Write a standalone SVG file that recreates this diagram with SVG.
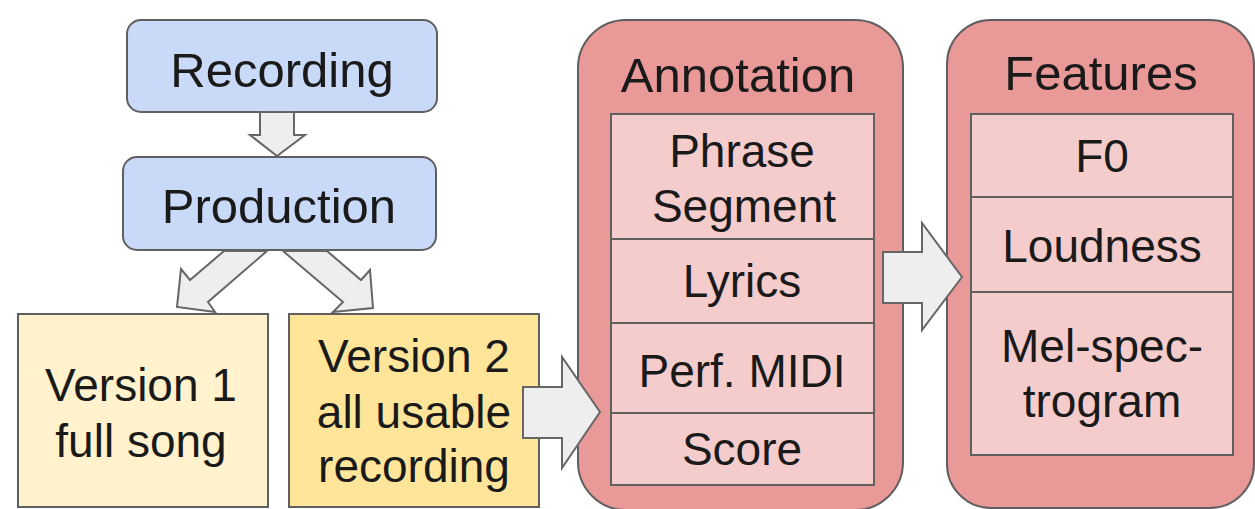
<svg xmlns="http://www.w3.org/2000/svg" width="1255" height="509" viewBox="0 0 1255 509">
<style>
.t{font-family:"Liberation Sans",Arial,sans-serif;fill:#1a1a1a;text-anchor:middle}
.h{font-size:49px}
.b{font-size:46px}
.box{stroke:#5f5f5f;stroke-width:2}
.blue{fill:#c9daf8}
.v1{fill:#fff2cc}
.v2{fill:#ffe599}
.outer{fill:#ea9999}
.inner{fill:#f4cccc}
.arr{fill:#eeeeee;stroke:#666666;stroke-width:2;stroke-linejoin:miter}
</style>
<rect width="1255" height="509" fill="#ffffff"/>
<g id="recording">
<rect class="box blue" x="127" y="20" width="310" height="92" rx="14"/>
<text class="t h" x="282" y="87">Recording</text>
</g>
<g id="production">
<rect class="box blue" x="123" y="157" width="313" height="93" rx="14"/>
<text class="t h" x="279" y="223">Production</text>
</g>
<g id="version1">
<rect class="box v1" x="18" y="314" width="250" height="193"/>
<text class="t b" x="141" y="401">Version 1</text>
<text class="t b" x="141" y="457">full song</text>
</g>
<g id="version2">
<rect class="box v2" x="289" y="314" width="250" height="193"/>
<text class="t b" x="414" y="372">Version 2</text>
<text class="t b" x="414" y="428">all usable</text>
<text class="t b" x="414" y="482">recording</text>
</g>
<g id="annotation">
<rect class="box outer" x="578" y="20" width="325" height="490" rx="48"/>
<text class="t h" x="738" y="92">Annotation</text>
<rect class="box inner" x="611" y="114" width="263" height="125"/>
<rect class="box inner" x="611" y="239" width="263" height="84"/>
<rect class="box inner" x="611" y="323" width="263" height="90"/>
<rect class="box inner" x="611" y="413" width="263" height="72"/>
<text class="t b" x="742" y="167">Phrase</text>
<text class="t b" x="744" y="222">Segment</text>
<text class="t b" x="742" y="297">Lyrics</text>
<text class="t b" x="742" y="387">Perf. MIDI</text>
<text class="t b" x="742" y="465">Score</text>
</g>
<g id="features">
<rect class="box outer" x="947" y="20" width="307" height="488" rx="44"/>
<text class="t h" x="1101" y="90">Features</text>
<rect class="box inner" x="971" y="114" width="262" height="83"/>
<rect class="box inner" x="971" y="197" width="262" height="95"/>
<rect class="box inner" x="971" y="292" width="262" height="163"/>
<text class="t b" x="1102" y="172">F0</text>
<text class="t b" x="1102" y="262">Loudness</text>
<text class="t b" x="1102" y="362">Mel-spec-</text>
<text class="t b" x="1102" y="417">trogram</text>
</g>
<g id="connectors">
<polygon class="arr" points="260,112 260,135 250,135 277,156 305,135 294,135 294,112"/>
<polygon class="arr" points="224,251 190,280 181,269 177,307 215,312 208,302 267,251"/>
<polygon class="arr" points="283,251 343,302 333,312 373,308 370,270 361,280 327,251"/>
<polygon class="arr" points="523,387 562,387 562,357 600,412 562,468 562,438 523,438"/>
<polygon class="arr" points="883,252 922,252 922,223 962,277 922,330 922,303 883,303"/>
</g>
</svg>
